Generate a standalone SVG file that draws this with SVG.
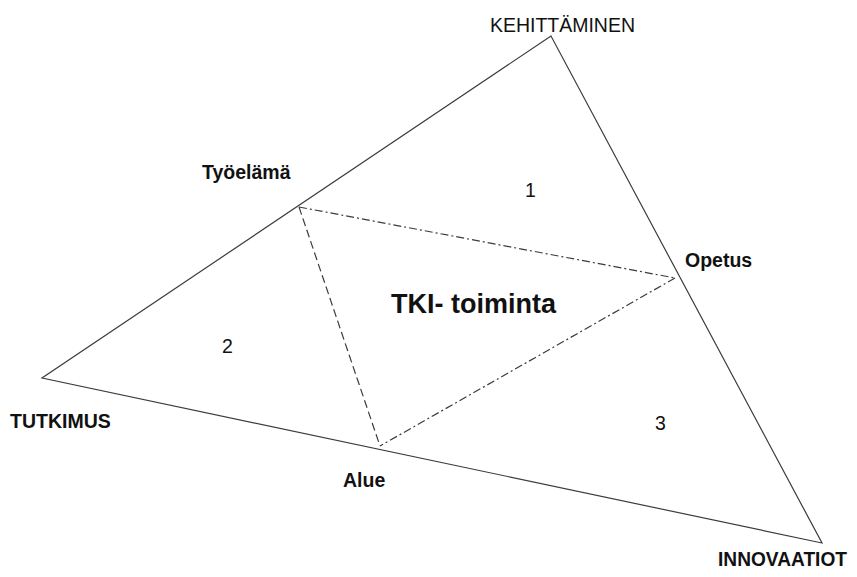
<svg xmlns="http://www.w3.org/2000/svg" width="857" height="577" viewBox="0 0 857 577">
<style>
.edge{fill:none;stroke:#3c3c3c;stroke-width:1.2}
.dash{fill:none;stroke:#3c3c3c;stroke-width:1.2;stroke-dasharray:8 4}
.dashdot{fill:none;stroke:#3c3c3c;stroke-width:1.2;stroke-dasharray:8 3 2 3}
.lbl{font-family:"Liberation Sans",Arial,sans-serif;font-size:19.5px;font-weight:bold;fill:#111}
.reg{font-family:"Liberation Sans",Arial,sans-serif;font-size:19.5px;fill:#111}
.title{font-family:"Liberation Sans",Arial,sans-serif;font-size:27px;font-weight:bold;fill:#111}
</style>
<rect width="857" height="577" fill="#fff"/>
<g id="connectors">
<polygon class="edge" points="551,36 42,378 822,543"/>
<line class="dashdot" x1="299" y1="207" x2="675" y2="278"/>
<line class="dashdot" x1="675" y1="278" x2="380" y2="446"/>
<line class="dash" x1="299" y1="207" x2="380" y2="446"/>
</g>
<g id="kehittaminen"><text class="reg" x="490" y="32" textLength="145" lengthAdjust="spacingAndGlyphs">KEHITTÄMINEN</text></g>
<g id="tutkimus"><text class="lbl" x="10" y="428">TUTKIMUS</text></g>
<g id="innovaatiot"><text class="lbl" x="718" y="566" textLength="129" lengthAdjust="spacingAndGlyphs">INNOVAATIOT</text></g>
<g id="tyoelama"><text class="lbl" x="202" y="179">Työelämä</text></g>
<g id="opetus"><text class="lbl" x="685" y="267">Opetus</text></g>
<g id="alue"><text class="lbl" x="343" y="487">Alue</text></g>
<g id="tki"><text class="title" x="391" y="313">TKI- toiminta</text></g>
<g id="area1"><text class="reg" x="525" y="197">1</text></g>
<g id="area2"><text class="reg" x="222" y="353">2</text></g>
<g id="area3"><text class="reg" x="655" y="430">3</text></g>
</svg>
